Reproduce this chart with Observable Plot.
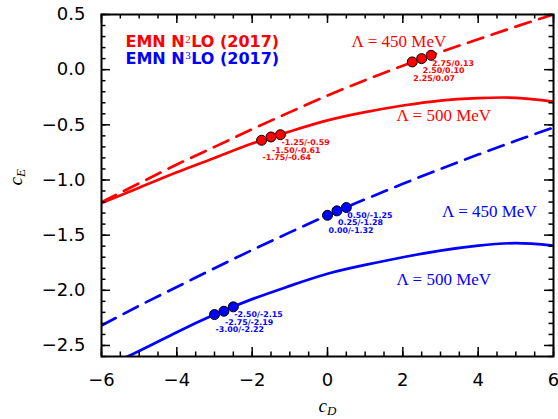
<!DOCTYPE html>
<html><head><meta charset="utf-8">
<script src="https://cdn.jsdelivr.net/npm/d3@7"></script>
<script src="https://cdn.jsdelivr.net/npm/@observablehq/plot@0.6"></script>
<style>body{margin:0;background:#fff}</style>
</head><body><div id="chart"></div>
<script>
// ---- data ----
const cDGrid  = [-6, -5, -4, -3, -2, -1, 0, 1, 2, 3, 4, 5, 6];
const n2lo450 = [-1.20, -1.03, -0.86, -0.70, -0.54, -0.385, -0.235, -0.095, 0.035, 0.16, 0.275, 0.39, 0.50];
const n2lo500 = [-1.21, -1.07, -0.93, -0.80, -0.67, -0.56, -0.46, -0.385, -0.325, -0.28, -0.258, -0.255, -0.29];
const n3lo450 = [-2.32, -2.14, -1.97, -1.80, -1.635, -1.475, -1.32, -1.175, -1.035, -0.90, -0.77, -0.645, -0.525];
const n3lo500 = [-2.71, -2.55, -2.38, -2.22, -2.08, -1.96, -1.85, -1.77, -1.70, -1.64, -1.595, -1.573, -1.595];

const ptsN2lo450cD = [2.25, 2.50, 2.75],   ptsN2lo450cE = [0.07, 0.10, 0.13];
const ptsN2lo500cD = [-1.75, -1.50, -1.25], ptsN2lo500cE = [-0.64, -0.61, -0.59];
const ptsN3lo450cD = [0.00, 0.25, 0.50],   ptsN3lo450cE = [-1.32, -1.28, -1.25];
const ptsN3lo500cD = [-3.00, -2.75, -2.50], ptsN3lo500cE = [-2.22, -2.19, -2.15];

const legendLabels = ["EMN N²LO (2017)", "EMN N³LO (2017)"];
const lambdaLabels = ["Λ = 450 MeV", "Λ = 500 MeV", "Λ = 450 MeV", "Λ = 500 MeV"];
const xTicks = [-6, -4, -2, 0, 2, 4, 6];
const yTicks = [0.5, 0.0, -0.5, -1.0, -1.5, -2.0, -2.5];

// ---- styling ----
const RED = "#ff0000", BLUE = "#0000ff";
const W = 558, H = 419, ML = 101, MR = 5, MT = 14, MB = 63;
const FW = W - ML - MR, FH = H - MT - MB;
const XD = [-6, 6], YD = [-2.6, 0.5];
const xMinor = d3.range(-6, 6.001, 0.5);
const yMinor = d3.range(-26, 6, 1).map(v => v / 10);

const table = (vals) => cDGrid.map((x, i) => ({cD: x, cE: vals[i]}));
const pts = (xs, ys) => xs.map((x, i) => ({cD: x, cE: ys[i]}));

const lineStyle = (color, dashed) => ({x: "cD", y: "cE", stroke: color, strokeWidth: 2.7,
  curve: "natural", clip: true, strokeDasharray: dashed ? "16,9" : null});

// inward ticks on all four sides (length in pixels, converted to data units)
function edgeTicks(values, axis, len) {
  const s = {stroke: "#000000", strokeWidth: 1.5, strokeOpacity: 1};
  if (axis === "x") {
    const d = len * (YD[1] - YD[0]) / FH;
    return [
      Plot.ruleX(values, {...s, x: v => v, y1: YD[0], y2: YD[0] + d}),
      Plot.ruleX(values, {...s, x: v => v, y1: YD[1], y2: YD[1] - d})
    ];
  }
  const d = len * (XD[1] - XD[0]) / FW;
  return [
    Plot.ruleY(values, {...s, y: v => v, x1: XD[0], x2: XD[0] + d}),
    Plot.ruleY(values, {...s, y: v => v, x1: XD[1], x2: XD[1] - d})
  ];
}

function pointGroup(xs, ys, color) {
  const data = pts(xs, ys);
  const top = data[data.length - 1];
  const marks = [Plot.dot(data, {x: "cD", y: "cE", r: 5, fill: color, stroke: "black", strokeWidth: 1})];
  data.slice().reverse().forEach((p, k) => {
    marks.push(Plot.text([p], {x: "cD", y: () => top.cE, text: d => `${d.cD.toFixed(2)}/${d.cE.toFixed(2)}`,
      textAnchor: "start", lineAnchor: "middle", dx: 1, dy: 7.8 + k * 7.6,
      fill: color, fontSize: 7.9, fontWeight: "bold"}));
  });
  return marks;
}

const lambdaPos = [[0.64, 0.258, RED], [1.83, -0.42, RED], [3.04, -1.29, BLUE], [1.83, -1.905, BLUE]];

const svg = Plot.plot({
  width: W, height: H,
  marginLeft: ML, marginRight: MR, marginTop: MT, marginBottom: MB,
  x: {domain: XD},
  y: {domain: YD},
  style: {fontFamily: "DejaVu Sans"},
  marks: [
    Plot.line(table(n2lo450), lineStyle(RED, true)),
    Plot.line(table(n2lo500), lineStyle(RED, false)),
    Plot.line(table(n3lo450), lineStyle(BLUE, true)),
    Plot.line(table(n3lo500), lineStyle(BLUE, false)),
    ...pointGroup(ptsN2lo450cD, ptsN2lo450cE, RED),
    ...pointGroup(ptsN2lo500cD, ptsN2lo500cE, RED),
    ...pointGroup(ptsN3lo450cD, ptsN3lo450cE, BLUE),
    ...pointGroup(ptsN3lo500cD, ptsN3lo500cE, BLUE),
    ...lambdaLabels.map((t, i) => Plot.text([t], {x: () => lambdaPos[i][0], y: () => lambdaPos[i][1], text: d => d,
      textAnchor: "start", lineAnchor: "middle", fill: lambdaPos[i][2], fontSize: 17, fontFamily: "Liberation Serif"})),
    ...legendLabels.map((t, i) => Plot.text([t], {text: d => d, frameAnchor: "top-left", dx: 24, dy: 27.8 + i * 16.5,
      textAnchor: "start", lineAnchor: "middle", fill: i === 0 ? RED : BLUE, fontSize: 16, fontWeight: "bold"})),
    Plot.axisX({ticks: xTicks, tickSize: 0, tickPadding: 17, fontSize: 18, label: null, tickFormat: d3.format("d")}),
    Plot.axisY({ticks: yTicks, tickSize: 0, tickPadding: 16, fontSize: 18, label: null, tickFormat: d3.format(".1f")}),
    Plot.text(["cD"], {text: d => d, frameAnchor: "bottom", dy: 49, lineAnchor: "middle", fontSize: 19}),
    Plot.text(["cE"], {text: d => d, frameAnchor: "left", dx: -86, rotate: -90, lineAnchor: "middle", fontSize: 19}),
    Plot.frame({stroke: "black", strokeWidth: 2}),
    ...edgeTicks(xMinor, "x", 4.5), ...edgeTicks(xTicks, "x", 9),
    ...edgeTicks(yMinor, "y", 4.5), ...edgeTicks(yTicks, "y", 9)
  ]
});

d3.select(svg).selectAll("text").each(function() {
  const t = d3.select(this), s = t.text();
  const m = s.match(/^(.*N)([²³])(.*)$/);
  if (m) {
    t.text(null);
    t.append("tspan").text(m[1]);
    t.append("tspan").attr("font-family", "Liberation Serif").attr("font-weight", "normal")
      .attr("font-size", 11).attr("dx", 0.5).attr("dy", -4.5).text(m[2] === "²" ? "2" : "3");
    t.append("tspan").attr("dx", 0.5).attr("dy", 4.5).text(m[3]);
  } else if (s === "cD" || s === "cE") {
    t.text(null).attr("font-family", "Liberation Serif");
    t.append("tspan").attr("font-style", "italic").text(s[0]);
    t.append("tspan").attr("font-style", "italic").attr("font-size", 13).attr("dy", 3).text(s[1]);
  }
});

document.getElementById("chart").appendChild(svg);
</script>
</body></html>
